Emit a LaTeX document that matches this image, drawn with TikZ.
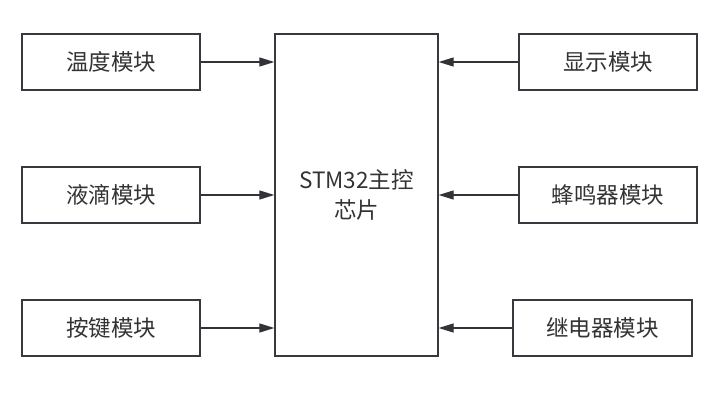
\documentclass[tikz,border=0pt]{standalone}
\usepackage{fontspec}
\setmainfont{Noto Sans CJK SC}
\usetikzlibrary{arrows.meta}
\definecolor{boxline}{HTML}{36393D}
\definecolor{txt}{HTML}{333333}
\begin{document}
\begin{tikzpicture}[x=1pt,y=-1pt,
  mod/.style={draw=boxline,line width=1.3pt,fill=white,text=txt,font=\fontsize{22.5}{30}\selectfont,inner sep=0pt},
  conn/.style={draw=boxline!90!black,line width=1.2pt,-{Triangle[length=15pt,width=9pt]}}]
\fill[white] (0,0) rectangle (727,403);
\useasboundingbox (0,0) rectangle (727,403);
\node[mod,minimum width=163pt,minimum height=322pt,align=center] (mcu) at (356.5,195) {STM32主控\\芯片};
\node[mod,minimum width=178pt,minimum height=56pt] (wd) at (111,62) {温度模块};
\node[mod,minimum width=178pt,minimum height=56pt] (yd) at (111,195) {液滴模块};
\node[mod,minimum width=178pt,minimum height=56pt] (aj) at (111,328) {按键模块};
\node[mod,minimum width=178pt,minimum height=56pt] (xs) at (608,62) {显示模块};
\node[mod,minimum width=178pt,minimum height=56pt] (fm) at (608,195) {蜂鸣器模块};
\node[mod,minimum width=179pt,minimum height=56pt] (jd) at (602.5,328) {继电器模块};
\draw[conn] (wd.east) -- (wd.east -| mcu.west);
\draw[conn] (yd.east) -- (yd.east -| mcu.west);
\draw[conn] (aj.east) -- (aj.east -| mcu.west);
\draw[conn] (xs.west) -- (xs.west -| mcu.east);
\draw[conn] (fm.west) -- (fm.west -| mcu.east);
\draw[conn] (jd.west) -- (jd.west -| mcu.east);
\end{tikzpicture}
\end{document}
